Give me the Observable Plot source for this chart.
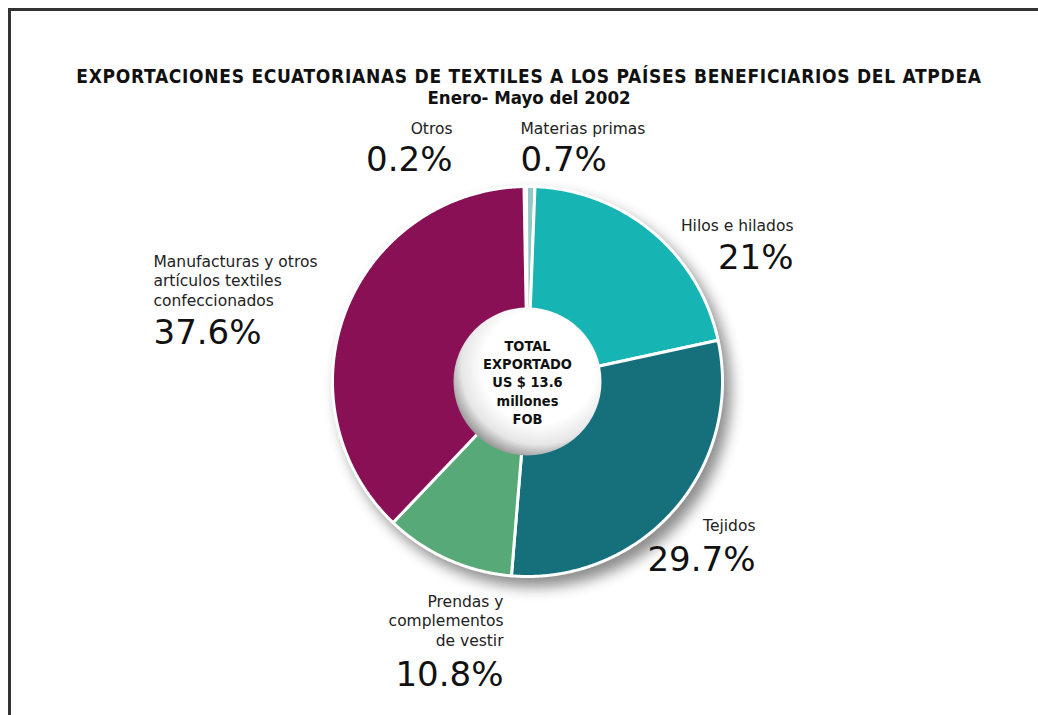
<!DOCTYPE html>
<html><head><meta charset="utf-8">
<script src="https://cdn.jsdelivr.net/npm/d3@7"></script>
<script src="https://cdn.jsdelivr.net/npm/@observablehq/plot@0.6"></script>
<style>
html,body{margin:0;padding:0;background:#fff;}
#wrap{position:relative;width:1038px;height:715px;overflow:hidden;background:#fff;}
#frame{position:absolute;left:8px;top:8px;width:1100px;height:800px;border-top:3px solid #333;border-left:3px solid #333;}
#title{position:absolute;left:0;width:1058px;top:65px;text-align:center;font-family:"DejaVu Sans Condensed","DejaVu Sans",sans-serif;font-weight:bold;color:#111;z-index:2;}
#title .t1{font-size:19px;letter-spacing:0.7px;line-height:22px;}
#title .t2{font-size:18.5px;line-height:21px;}
#chart{position:absolute;left:0;top:0;}
#chart svg g[aria-label="line"]{filter:drop-shadow(7px 9px 7px rgba(0,0,0,0.45));}
</style></head><body>
<div id="wrap"><div id="frame"></div>
<div id="title"><div class="t1">EXPORTACIONES ECUATORIANAS DE TEXTILES A LOS PAÍSES BENEFICIARIOS DEL ATPDEA</div><div class="t2">Enero- Mayo del 2002</div></div>
<div id="chart"></div></div>
<script>
// ---- data ----
const categories = ["Otros","Materias primas","Hilos e hilados","Tejidos","Prendas y complementos de vestir","Manufacturas y otros artículos textiles confeccionados"];
const shares = [0.2, 0.7, 21, 29.7, 10.8, 37.6];
const shareLabels = ["0.2%","0.7%","21%","29.7%","10.8%","37.6%"];
const nameLines = ["Otros","Materias primas","Hilos e hilados","Tejidos","Prendas y\ncomplementos\nde vestir","Manufacturas y otros\nartículos textiles\nconfeccionados"];
const sliceColors = ["#eef5f5","#93c8c8","#16b5b3","#15707b","#57a977","#8a1056"];
const centerLines = ["TOTAL","EXPORTADO","US $ 13.6","millones","FOB"];

// ---- layout (not data) ----
const innerR = 0.36;
const rotation = -0.018;
const labelLayout = [
  {dx:-75, nameDy:-248, pctDy:-221, anchor:"end"},
  {dx:-7, nameDy:-248, pctDy:-221, anchor:"start"},
  {dx:266, nameDy:-151, pctDy:-123, anchor:"end"},
  {dx:228, nameDy:149, pctDy:179, anchor:"end"},
  {dx:-24, nameDy:264, pctDy:294, anchor:"end"},
  {dx:-374, nameDy:-76, pctDy:-48, anchor:"start"}
];

const table = categories.map((c,i)=>({name:c, share:shares[i]}));
const arcs = d3.pie().sort(null).value(d=>d.share).startAngle(rotation).endAngle(rotation+2*Math.PI)(table);
const pts = [];
for (const a of arcs) {
  const n = Math.max(2, Math.ceil((a.endAngle-a.startAngle)/0.005));
  for (let k=0;k<=n;k++){const t=a.startAngle+(a.endAngle-a.startAngle)*k/n; pts.push({name:a.data.name,x:Math.sin(t),y:Math.cos(t)});}
  for (let k=n;k>=0;k--){const t=a.startAngle+(a.endAngle-a.startAngle)*k/n; pts.push({name:a.data.name,x:innerR*Math.sin(t),y:innerR*Math.cos(t)});}
}

const defsMark = () => {
  const ns="http://www.w3.org/2000/svg";
  const defs=document.createElementNS(ns,"defs");
  defs.innerHTML = `<radialGradient id="holeGrad" cx="0.58" cy="0.4" r="0.62">
    <stop offset="0" stop-color="#ffffff"/><stop offset="0.62" stop-color="#ffffff"/>
    <stop offset="0.85" stop-color="#e6e6e6"/><stop offset="1" stop-color="#9b9b9b"/></radialGradient>`;
  return defs;
};

const labelFont = "DejaVu Sans, Verdana, sans-serif";
const labelMarks = labelLayout.flatMap((L,i)=>[
  Plot.text([nameLines[i]], {x:0, y:0, text:d=>d, dx:L.dx, dy:L.nameDy, textAnchor:L.anchor, lineAnchor:"bottom", fontFamily:labelFont, fontSize:15.5, lineHeight:1.23, fill:"#222"}),
  Plot.text([shareLabels[i]], {x:0, y:0, text:d=>d, dx:L.dx, dy:L.pctDy, textAnchor:L.anchor, lineAnchor:"middle", fontFamily:labelFont, fontSize:34, fill:"#111"})
]);

const chart = Plot.plot({
  width:1038, height:715,
  marginLeft:332, marginRight:316, marginTop:186, marginBottom:139,
  x:{domain:[-1,1], axis:null},
  y:{domain:[-1,1], axis:null},
  color:{domain:categories, range:sliceColors},
  style:{background:"transparent", overflow:"visible"},
  marks:[
    defsMark,
    Plot.line(pts, {x:"x", y:"y", z:"name", fill:"name", stroke:"#ffffff", strokeWidth:3, curve:"linear-closed"}),
    Plot.dot([0], {x:0, y:0, r:74, fill:"url(#holeGrad)", stroke:"none"}),
    Plot.text([centerLines.join("\n")], {x:0, y:0, text:d=>d, fontFamily:"DejaVu Sans Condensed, DejaVu Sans, sans-serif", fontWeight:"bold", fontSize:14.5, lineHeight:1.26, fill:"#111"}),
    ...labelMarks
  ]
});
document.getElementById("chart").appendChild(chart);
</script>
</body></html>
